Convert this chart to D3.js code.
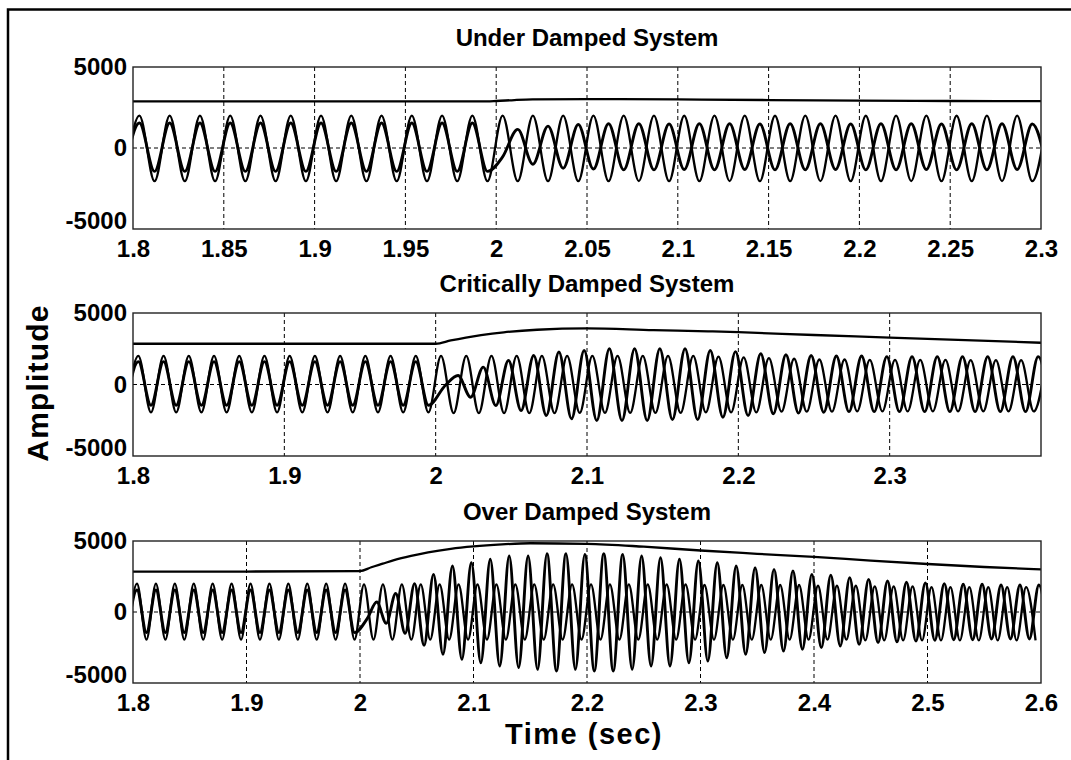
<!DOCTYPE html>
<html><head><meta charset="utf-8">
<script src="https://cdn.jsdelivr.net/npm/d3@7"></script>
<style>
body{margin:0;background:#fff}
svg{display:block}
</style>
</head><body><script>
// ---------------- DATA ----------------
const titles = ["Under Damped System", "Critically Damped System", "Over Damped System"];
const xDomain1 = [1.8, 2.3], xDomain2 = [1.8, 2.4], xDomain3 = [1.8, 2.6];
const xTicks1 = [1.8, 1.85, 1.9, 1.95, 2.0, 2.05, 2.1, 2.15, 2.2, 2.25, 2.3];
const xTickLabels1 = ["1.8","1.85","1.9","1.95","2","2.05","2.1","2.15","2.2","2.25","2.3"];
const xTicks2 = [1.8, 1.9, 2.0, 2.1, 2.2, 2.3];
const xTickLabels2 = ["1.8","1.9","2","2.1","2.2","2.3"];
const xTicks3 = [1.8, 1.9, 2.0, 2.1, 2.2, 2.3, 2.4, 2.5, 2.6];
const xTickLabels3 = ["1.8","1.9","2","2.1","2.2","2.3","2.4","2.5","2.6"];
const yDomain = [-5000, 5000];
const yTicks = [-5000, 0, 5000];
const yTickLabels = ["-5000", "0", "5000"];

// 60 Hz waveforms: successive extrema (one value per half cycle)
const halfCycleStart = 1.7952;   // time of first extremum (s)
const halfCycle = 1 / 120;       // half period (s)
const postIndex = 25;            // first half-cycle after the event at t = 2 s
const postPhase = [0, 0.35, 0.35]; // phase of series B after the event, in half cycles

// ---- Under damped ----
const p1A = [-2050,2000,-2050,2000,-2050,2000,-2050,2000,-2050,2000,-2050,2000,-2050,2000,-2050,2000,-2050,2000,-2050,2000,-2050,2000,-2050,2000,-2050,
  2000,-2050,2000,-2050,2000,-2050,2000,-2050,2000,-2040,2000,-2050,1990,-2050,2000,-2040,2000,-2050,1990,-2050,2000,-2040,2000,-2050,1990,-2050,2000,-2040,2000,-2050,1990,-2050,2000,-2040,2000,-2050,1990];
const p1Bpre = [-1440,1540,-1440,1540,-1440,1540,-1440,1540,-1440,1540,-1440,1540,-1440,1540,-1440,1540,-1440,1540,-1440,1540,-1440,1540,-1440,1540,-1440];
const p1Bpost = [-550,1150,-1000,1350,-1250,1450,-1300,1500,-1350,1500,-1350,1480,-1330,1500,-1350,1500,-1330,1480,-1350,1500,-1350,1500,-1330,1480,-1350,1500,-1350,1500,-1330,1480,-1350,1500,-1350,1500,-1330,1480,-1350];
const line1T = [1.8, 1.9, 1.995, 2.0, 2.01, 2.02, 2.05, 2.1, 2.15, 2.2, 2.25, 2.3];
const line1V = [2880, 2880, 2880, 2900, 2960, 3000, 3020, 3000, 2960, 2930, 2900, 2890];

// ---- Critically damped ----
const p2A = [-1950,2000,-1950,2000,-1950,2000,-1950,2000,-1950,2000,-1950,2000,-1950,2000,-1950,2000,-1950,2000,-1950,2000,-1950,2000,-1950,2000,-1950,
  2000,-2000,2000,-2000,2000,-2000,2000,-2000,2000,-2000,2000,-1980,2000,-1980,2000,-1980,2000,-1980,2000,-1980,2000,-1950,1950,-1950,1900,-1950,1850,-1900,1800,-1900,1750,-1900,1750,-1880,1720,-1880,1720,-1880,1720,-1880,1720,-1880,1700,-1880,1700,-1880,1700,-1880,1700];
const p2Bpre = [-1450,1600,-1450,1600,-1450,1600,-1450,1600,-1450,1600,-1450,1600,-1450,1600,-1450,1600,-1450,1600,-1450,1600,-1450,1600,-1450,1600,-1450];
const p2Bpost = [-50,630,-890,1215,-1470,1680,-1820,2030,-2170,2270,-2400,2380,-2520,2500,-2520,2500,-2520,2500,-2450,2500,-2450,2380,-2290,2300,-2170,2150,-2050,2080,-2000,2030,-1940,1990,-1900,1990,-1900,1950,-1900,1950,-1900,1950,-1900,1950,-1900,1950,-1900,1950,-1900,1950,-1900];
const line2T = [1.8, 1.9, 2.0, 2.01, 2.02, 2.03, 2.045, 2.067, 2.1, 2.144, 2.18, 2.2, 2.25, 2.3, 2.35, 2.4];
const line2V = [2850, 2850, 2850, 3080, 3280, 3450, 3650, 3830, 3920, 3800, 3720, 3660, 3460, 3280, 3100, 2920];

// ---- Over damped ----
const p3A = [-1950,2000,-1950,2000,-1950,2000,-1950,2000,-1950,2000,-1950,2000,-1950,2000,-1950,2000,-1950,2000,-1950,2000,-1950,2000,-1950,2000,-1950,
  1950,-1950,1950,-1950,1950,-1950,1950,-1950,1950,-1950,1950,-1950,1950,-1950,1950,-1950,1950,-1950,1950,-1950,1950,-1950,1950,-1950,1950,-1950,1950,-1950,1950,-1950,1950,-1950,1950,-1950,1950,-1950,1900,-1950,1900,-1950,1900,-1950,1900,-1950,1900,-1950,1900,-1950,1850,-1950,1850,-1950,1850,-2000,1800,-2000,1800,-2000,1800,-2000,1750,-2000,1750,-2000,1750,-2000,1750,-2000,1750,-2000,1750,-2000];
const p3Bpre = [-1450,1550,-1450,1550,-1450,1550,-1450,1550,-1450,1550,-1450,1550,-1450,1550,-1450,1550,-1450,1550,-1450,1550,-1450,1550,-1450,1550,-1450];
const p3Bpost = [-450,700,-800,1300,-1500,2000,-2350,2650,-2980,3240,-3330,3470,-3570,3710,-3800,3940,-3920,3940,-4040,4110,-4150,4110,-4040,4060,-4150,4110,-4150,4060,-4040,3940,-3800,3830,-3800,3710,-3570,3590,-3450,3470,-3220,3240,-2980,3120,-2860,3000,-2750,2890,-2630,2650,-2510,2600,-2390,2420,-2280,2300,-2160,2180,-2100,2100,-2050,2050,-2000,2000,-1950,1950,-1950,1950,-1900,1900,-1900,1900,-1900,1900,-1900];
const line3T = [1.8, 1.9, 2.0, 2.01, 2.02, 2.03, 2.045, 2.06, 2.08, 2.1, 2.125, 2.15, 2.2, 2.25, 2.3, 2.35, 2.4, 2.45, 2.5, 2.55, 2.6];
const line3V = [2850, 2850, 2880, 3150, 3400, 3650, 3950, 4200, 4450, 4620, 4760, 4840, 4800, 4600, 4330, 4100, 3880, 3620, 3380, 3170, 3000];

const xLabel = "Time (sec)";
const yLabel = "Amplitude";

// ---------------- DRAWING ----------------
const FONT = "'Liberation Sans', Arial, Helvetica, sans-serif";
const W = 1071, H = 760;
const svg = d3.select("body").append("svg").attr("width", W).attr("height", H);
svg.append("rect").attr("width", W).attr("height", H).attr("fill", "#fff");
svg.append("rect").attr("x", 8).attr("y", 9.5).attr("width", 1200).attr("height", 900)
  .attr("fill", "none").attr("stroke", "#000").attr("stroke-width", 2.5);

const left = 133, right = 1041;
const layout = [{top: 67, bottom: 229}, {top: 313, bottom: 456}, {top: 541, bottom: 683}];

const panels = [
  {title: titles[0], domain: xDomain1, ticks: xTicks1, labels: xTickLabels1, A: p1A, Bpre: p1Bpre, Bpost: p1Bpost, lt: line1T, lv: line1V},
  {title: titles[1], domain: xDomain2, ticks: xTicks2, labels: xTickLabels2, A: p2A, Bpre: p2Bpre, Bpost: p2Bpost, lt: line2T, lv: line2V},
  {title: titles[2], domain: xDomain3, ticks: xTicks3, labels: xTickLabels3, A: p3A, Bpre: p3Bpre, Bpost: p3Bpost, lt: line3T, lv: line3V}
];

panels.forEach((p, i) => {
  const {top, bottom} = layout[i];
  const x = d3.scaleLinear().domain(p.domain).range([left, right]);
  const y = d3.scaleLinear().domain(yDomain).range([bottom, top]);
  const g = svg.append("g");

  const cid = "clip" + i;
  svg.append("clipPath").attr("id", cid).append("rect")
    .attr("x", left).attr("y", top).attr("width", right - left).attr("height", bottom - top);

  // grid
  g.selectAll("line.vg").data(p.ticks.filter(t => t > p.domain[0] + 1e-9 && t < p.domain[1] - 1e-9))
    .join("line").attr("class", "vg")
    .attr("x1", d => x(d)).attr("x2", d => x(d)).attr("y1", top).attr("y2", bottom)
    .attr("stroke", "#000").attr("stroke-width", 1).attr("stroke-dasharray", "4,3");
  g.append("line").attr("x1", left).attr("x2", right).attr("y1", y(0)).attr("y2", y(0))
    .attr("stroke", "#000").attr("stroke-width", 1).attr("stroke-dasharray", "4,3");

  const line = d3.line().x(d => x(d.t)).y(d => y(d.v)).curve(d3.curveMonotoneX);
  const plot = g.append("g").attr("clip-path", `url(#${cid})`);

  const topPts = p.lt.map((t, k) => ({t, v: p.lv[k]}));
  plot.append("path").datum(topPts).attr("d", line).attr("fill", "none")
    .attr("stroke", "#000").attr("stroke-width", 2.3);

  const aPts = p.A.map((v, k) => ({t: halfCycleStart + k * halfCycle, v}));
  const bPts = p.Bpre.map((v, k) => ({t: halfCycleStart + k * halfCycle, v}))
    .concat(p.Bpost.map((v, k) => ({t: halfCycleStart + (postIndex + k + postPhase[i]) * halfCycle, v})));

  plot.append("path").datum(aPts).attr("d", line).attr("fill", "none")
    .attr("stroke", "#000").attr("stroke-width", 2.3);
  plot.append("path").datum(bPts).attr("d", line).attr("fill", "none")
    .attr("stroke", "#000").attr("stroke-width", 2.9);

  // box
  g.append("rect").attr("x", left).attr("y", top).attr("width", right - left).attr("height", bottom - top)
    .attr("fill", "none").attr("stroke", "#222").attr("stroke-width", 1.4);

  // axes
  const xa = d3.axisBottom(x).tickValues(p.ticks).tickFormat((d, j) => p.labels[j]).tickSize(0).tickPadding(11);
  const gx = g.append("g").attr("transform", `translate(0,${bottom})`).call(xa);
  gx.select(".domain").remove();
  gx.attr("font-family", FONT).attr("font-size", 24).attr("font-weight", "bold");

  const ya = d3.axisLeft(y).tickValues(yTicks).tickFormat((d, j) => yTickLabels[j]).tickSize(0).tickPadding(6);
  const gy = g.append("g").attr("transform", `translate(${left},0)`).call(ya);
  gy.select(".domain").remove();
  gy.attr("font-family", FONT).attr("font-size", 24).attr("font-weight", "bold");
  // lowest label sits slightly above the axis corner so it clears the first time label
  gy.selectAll(".tick").filter(d => d === yDomain[0]).select("text").attr("y", -8);

  // title
  g.append("text").attr("x", (left + right) / 2).attr("y", top - 21).attr("text-anchor", "middle")
    .attr("font-family", FONT).attr("font-size", 24).attr("font-weight", "bold").text(p.title);
});

svg.append("text").attr("transform", "translate(48,383) rotate(-90)").attr("text-anchor", "middle")
  .attr("font-family", FONT).attr("font-size", 30).attr("font-weight", "bold").attr("letter-spacing", 1.2).text(yLabel);
svg.append("text").attr("x", 584).attr("y", 744).attr("text-anchor", "middle")
  .attr("font-family", FONT).attr("font-size", 29).attr("font-weight", "bold").attr("letter-spacing", 1.5).text(xLabel);
</script></body></html>
